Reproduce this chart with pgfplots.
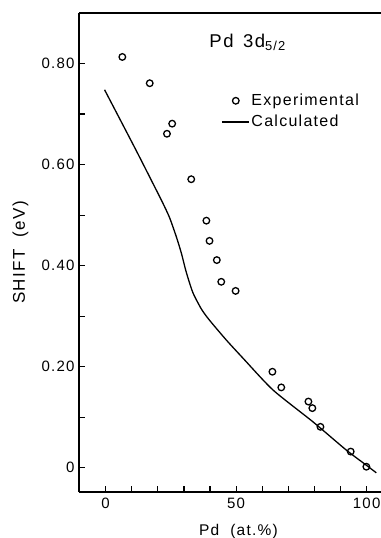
\documentclass[border=0pt]{standalone}
\usepackage{pgfplots}
\pgfplotsset{compat=1.18}
\usepackage{fontspec}
\setmainfont{Liberation Sans}[LetterSpace=8]
\usetikzlibrary{calc}
\pgfplotsset{
  markleg/.style={legend image code/.code={\draw[##1] plot coordinates {(14pt,0pt)};}},
  lineleg/.style={legend image code/.code={\draw[##1] (0pt,0pt) -- (27pt,0pt);}},
}
\begin{document}
\begin{tikzpicture}
\begin{axis}[
  scale only axis,
  width=302pt, height=479pt,
  xmin=-10.2, xmax=105.5,
  ymin=-0.048, ymax=0.90,
  axis x line*=bottom, axis y line*=left,
  axis line style={-, line width=1.7pt},
  tick align=inside,
  major tick length=6pt, minor tick length=6pt,
  tick style={line width=1.2pt, black},
  xtick={0,50,100}, minor xtick={10,20,30,40,60,70,80,90},
  ytick={0,0.2,0.4,0.6,0.8},
  yticklabels={0,0.20,0.40,0.60,0.80},
  minor ytick={0.1,0.3,0.5,0.7},
  /pgf/number format/assume math mode=true,
  tick label style={font=\fontsize{15}{18}\selectfont},
  yticklabel style={xshift=-1pt},
  xticklabel style={yshift=-2pt},
  xlabel={Pd\ \ (at.\%)},
  ylabel={SHIFT\ \ (eV)},
  xlabel style={font=\fontsize{15.5}{19}\selectfont, at={(axis description cs:0.528,0)}, anchor=base, yshift=-43pt},
  ylabel style={font=\fontsize{17}{20}\selectfont, at={(axis description cs:0,0.5)}, anchor=south, yshift=47pt},
  legend style={draw=none, fill=none, at={(rel axis cs:0.47,0.835)}, anchor=north west,
    font=\fontsize{16}{19}\selectfont, row sep=4pt, inner sep=0pt,
    /tikz/every even column/.append style={column sep=2pt}},
  legend cell align=left,
]
\addplot[only marks, mark=o, mark size=3.3pt, line width=1.3pt, black, markleg]
 coordinates {
 (6.4,0.813) (16.9,0.761) (23.5,0.661) (25.5,0.681) (32.8,0.571)
 (38.6,0.489) (39.8,0.449) (42.6,0.411) (44.3,0.368) (49.8,0.350)
 (63.9,0.190) (67.3,0.159) (77.7,0.131) (79.2,0.118) (82.3,0.081)
 (93.9,0.032) (99.9,0.002)
 };
\addlegendentry{Experimental}
\addplot[black, line width=1.3pt, smooth, tension=0.4, lineleg]
 coordinates {
 (-0.4,0.748) (11.1,0.634) (18.1,0.563) (21.9,0.524) (24.5,0.495)
 (27.1,0.457) (29.0,0.425) (30.9,0.387) (33.4,0.347) (36.7,0.314)
 (39.8,0.292) (46.2,0.253) (52.6,0.217) (64.1,0.154) (79.4,0.091)
 (92.2,0.035) (99.9,0.005) (103.7,-0.010)
 };
\addlegendentry{Calculated}
\draw[line width=1.7pt] (rel axis cs:0,1) -- (rel axis cs:1,1);
\node[anchor=base, inner sep=0pt, font=\fontsize{18.5}{22}\selectfont] at (axis cs:54.4,0.832) {Pd\hspace{3pt} 3d\textsubscript{5/2}};
\coordinate (SW) at (rel axis cs:0,0);
\coordinate (NE) at (rel axis cs:1,1);
\end{axis}
\pgfresetboundingbox
\path[use as bounding box] ($(SW)+(-79pt,-46pt)$) rectangle ($(NE)+(0pt,13pt)$);
\end{tikzpicture}
\end{document}
